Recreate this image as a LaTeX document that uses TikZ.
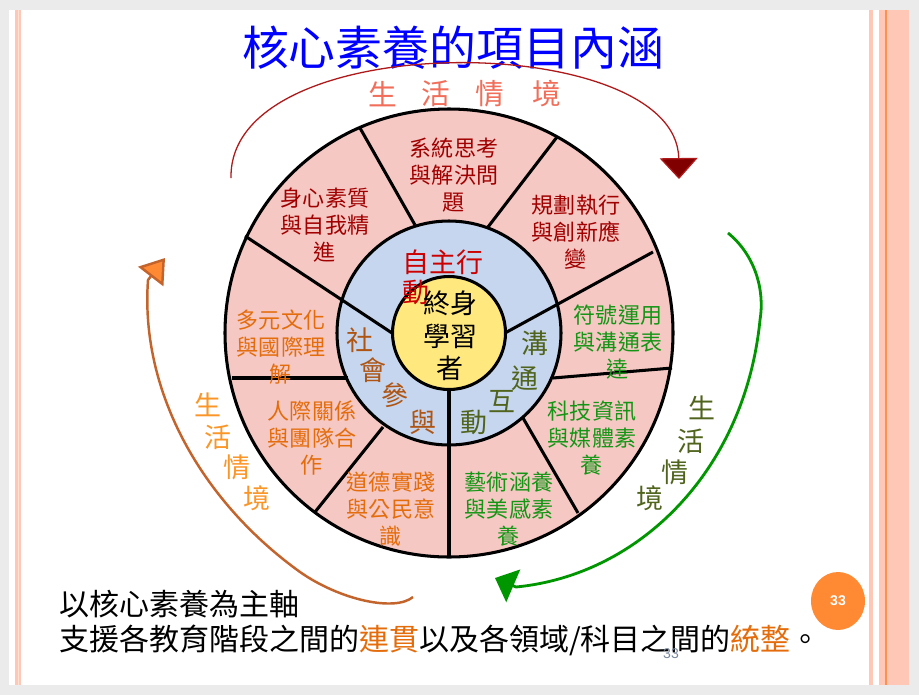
\documentclass[tikz,border=0pt]{standalone}
\usepackage{fontspec}
\newfontfamily\cjk{Noto Sans CJK TC}
\newfontfamily\arialfont{Liberation Sans}
\usetikzlibrary{arrows.meta,shapes.geometric}

\definecolor{slidegray}{RGB}{235,235,235}
\definecolor{stripe}{RGB}{255,200,182}
\definecolor{stripelight}{RGB}{255,226,214}
\definecolor{stripeline}{RGB}{255,145,80}
\definecolor{ringpink}{RGB}{245,200,196}
\definecolor{ringblue}{RGB}{198,214,238}
\definecolor{coreyellow}{RGB}{255,233,127}
\definecolor{selfred}{RGB}{160,0,0}
\definecolor{commgreen}{RGB}{20,150,20}
\definecolor{socorange}{RGB}{228,108,10}
\definecolor{actred}{RGB}{204,0,0}
\definecolor{partbrown}{RGB}{175,85,20}
\definecolor{talkolive}{RGB}{80,100,30}
\definecolor{lifesalmon}{RGB}{240,110,90}
\definecolor{lifeorange}{RGB}{250,150,40}
\definecolor{arcred}{RGB}{175,25,25}
\definecolor{tipred}{RGB}{128,0,0}
\definecolor{arroworange}{RGB}{195,100,45}
\definecolor{tiporange}{RGB}{255,138,51}
\definecolor{arrowgreen}{RGB}{0,150,0}
\definecolor{badge}{RGB}{255,138,51}
\definecolor{pagegray}{RGB}{120,135,155}

\tikzset{
  seg/.style={font=\cjk\fontsize{18.8}{23}\selectfont, align=center, inner sep=0pt},
  ring/.style={font=\cjk\fontsize{23}{26}\selectfont, inner sep=0pt},
  life/.style={font=\cjk\fontsize{24.5}{26}\selectfont, inner sep=0pt},
  sidelife/.style={font=\cjk\fontsize{23}{26}\selectfont, inner sep=0pt},
  spoke/.style={line width=2.6pt},
  bottomline/.style={font=\cjk\fontsize{25.6}{30}\selectfont, anchor=west, inner sep=0pt},
}

\begin{document}
\begin{tikzpicture}[x=0.03cm,y=-0.03cm]

        % Slide background and side stripes
        \fill[slidegray] (0,0) rectangle (919,695);
        \useasboundingbox (0,0) rectangle (919,695);
        \fill[white] (9,10) rectangle (908.7,685);
        \fill[stripe] (15,10) rectangle (21,685);
        \fill[stripelight] (17.5,10) rectangle (19,685);
        \fill[stripe] (869.3,10) rectangle (872.7,685);
        \fill[stripe] (878.7,10) rectangle (908.7,685);
        \fill[stripeline] (885,10) rectangle (886.5,685);

        % Title
        \node[font=\cjk\fontsize{40}{44}\selectfont, text=blue, inner sep=0pt] (title) at (453,48) {核心素養的項目內涵};

        % The wheel: outer ring, middle ring and core
        \coordinate (O) at (449,333);
        \draw[fill=ringpink, line width=2.6pt] (O) circle (224);
        \draw[fill=ringblue, line width=2.6pt] (O) circle (112);

        % Loop to draw the dividing lines of the rings
        \foreach \xa/\ya/\xb/\yb in {415/225/360/128, 488/227/557/137, 553/378/672/368,
                                     523/418/578/513, 383/427/315/512, 348/378/232/378,
                                     392/333/245/236, 505/333/653/252, 449/390/449/557} {
            \draw[spoke] (\xa,\ya) -- (\xb,\yb);
        }
        \draw[fill=coreyellow, line width=2.6pt] (O) circle (56.5);

        % Loop to add the nine labels of the outer ring
        \foreach \name/\x/\y/\col/\txt in {
            sys/454/175/selfred/{系統思考\\與解決問\\題},
            body/325/225/selfred/{身心素質\\與自我精\\進},
            plan/576/232/selfred/{規劃執行\\與創新應\\變},
            sign/618/342/commgreen/{符號運用\\與溝通表\\達},
            tech/592/438/commgreen/{科技資訊\\與媒體素\\養},
            art/509/509/commgreen/{藝術涵養\\與美感素\\養},
            moral/391/509/socorange/{道德實踐\\與公民意\\識},
            team/312/438/socorange/{人際關係\\與團隊合\\作},
            culture/281/347/socorange/{多元文化\\與國際理\\解}} {
            \node[seg, text=\col] (\name) at (\x,\y) {\txt};
        }

        % Middle ring labels
        \node[ring, text=actred, align=left, font=\cjk\fontsize{23}{25.6}\selectfont] (act) at (443,277) {自主行\\動};
        \foreach \c/\x/\y [count=\i] in {社/360/340, 會/373/370, 參/395/395, 與/423/422} {
            \node[ring, text=partbrown] (part\i) at (\x,\y) {\c};
        }
        \foreach \c/\x/\y [count=\i] in {溝/535/343, 通/525/378, 互/502/402, 動/474/422} {
            \node[ring, text=talkolive] (talk\i) at (\x,\y) {\c};
        }

        % Core
        \node[align=center, inner sep=0pt, font=\cjk\fontsize{23}{27.7}\selectfont] (core) at (450,336) {終身\\學習\\者};

        % Life context labels round the wheel
        \foreach \c/\x [count=\i] in {生/383, 活/436, 情/490, 境/547} {
            \node[life, text=lifesalmon] (top\i) at (\x,94) {\c};
        }
        \foreach \c/\x/\y [count=\i] in {生/208/405, 活/218/437, 情/237/467, 境/257/498} {
            \node[sidelife, text=lifeorange] (left\i) at (\x,\y) {\c};
        }
        \foreach \c/\x/\y [count=\i] in {生/702/408, 活/691/441, 情/675/472, 境/650/498} {
            \node[sidelife, text=talkolive] (right\i) at (\x,\y) {\c};
        }

        % Curved arrows round the wheel
        \coordinate (topS) at (231,178);
        \coordinate (topE) at (679,179);
        \coordinate (leftS) at (413,597);
        \coordinate (leftE) at (165,258);
        \coordinate (rightS) at (728,233);
        \coordinate (rightE) at (495,578);
        \draw[arcred, line width=1.1pt, -{Triangle[length=17.9pt, width=32.4pt, fill=tipred]}]
            (topS) .. controls (228,25) and (677,30) .. (topE);
        \draw[arroworange, line width=2.1pt, -{Triangle[length=20pt, width=27pt, fill=tiporange]}]
            (leftS) .. controls (395,612) and (340,600) .. (300,572)
            .. controls (200,500) and (140,390) .. (148,280) -- (leftE);
        \draw[arrowgreen, line width=2.4pt, -{Triangle[length=17pt, width=30pt]}]
            (rightS) .. controls (755,255) and (765,290) .. (760,320)
            .. controls (745,470) and (640,575) .. (516,587) -- (rightE);

        % Bottom text, page badge and page number
        \node[bottomline] (axis) at (59,604) {以核心素養為主軸};
        \node[bottomline] (bridge) at (59,640) {支援各教育階段之間的{\color{socorange}連貫}以及各領域/科目之間的{\color{socorange}統整}。};
        \node[ellipse, fill=badge, minimum width=1.62cm, minimum height=1.74cm, inner sep=0pt,
              text=white, font=\arialfont\bfseries\fontsize{12}{14}\selectfont] (badge) at (838,601) {33};
        \node[font=\arialfont\fontsize{12}{14}\selectfont, text=pagegray, inner sep=0pt] (pnum) at (671,654) {33};

\end{tikzpicture}
\end{document}
